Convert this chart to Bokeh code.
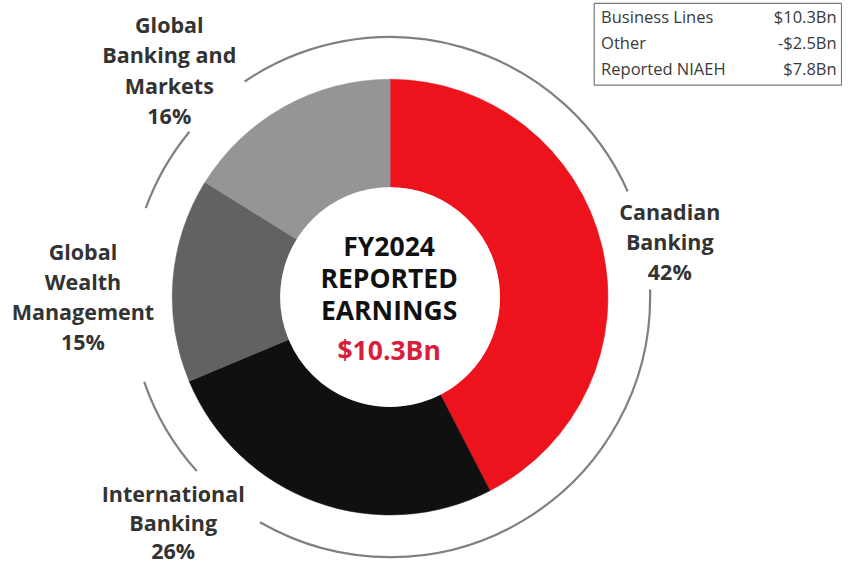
import numpy as np
from bokeh.plotting import figure
from bokeh.models import Range1d
from bokeh.core.properties import value
from bokeh.embed import file_html
from bokeh.resources import INLINE

# ---- data ----
segments = ["Canadian Banking", "International Banking", "Global Wealth Management", "Global Banking and Markets"]
shares = [42, 26, 15, 16]
seg_colors = ["#ED131C", "#101010", "#616264", "#959595"]
label_lines = [["Canadian", "Banking", "42%"],
               ["International", "Banking", "26%"],
               ["Global", "Wealth", "Management", "15%"],
               ["Global", "Banking and", "Markets", "16%"]]
center_title = ["FY2024", "REPORTED", "EARNINGS"]
center_value = "$10.3Bn"
table_names = ["Business Lines", "Other", "Reported NIAEH"]
table_values = ["$10.3Bn", "-$2.5Bn", "$7.8Bn"]

W, H = 842, 565
def Y(sy):
    return 581 - sy

p = figure(width=W, height=H, x_range=Range1d(0, 858), y_range=Range1d(0, 581),
           output_backend="svg", toolbar_location=None, min_border=0,
           x_axis_location=None, y_axis_location=None)
p.grid.visible = False
p.outline_line_color = None
p.background_fill_color = "white"

FONT = value("Open Sans")
cx, cy = 397, Y(305)
r_out, r_in, r_arc = 222, 112, 265

# donut wedges (clockwise from 12 o'clock)
total = float(sum(shares))
ang = np.array(shares) / total * 2 * np.pi
ends = np.pi / 2 - np.concatenate([[0], np.cumsum(ang)[:-1]])
starts = ends - ang
p.annular_wedge(x=cx, y=cy, inner_radius=r_in, outer_radius=r_out,
                start_angle=list(starts), end_angle=list(ends),
                fill_color=seg_colors, line_color=seg_colors, line_width=0.5)
p.circle(x=cx, y=cy, radius=r_in, fill_color="white", line_color=None)

# outer grey arc broken around the labels
arc_parts = [(24, 124), (140.5, 160), (199, 222), (240, 361.7)]
for a0, a1 in arc_parts:
    p.arc(x=cx, y=cy, radius=r_arc, start_angle=np.deg2rad(a0), end_angle=np.deg2rad(a1),
          direction="anticlock", line_color="#808080", line_width=2.2)

# segment labels
label_pos = [(682, [217, 248, 279]),
             (176, [507, 537, 566]),
             (84, [258, 289, 320, 351]),
             (172, [25, 56, 87, 118])]
for lines, (lx, ys) in zip(label_lines, label_pos):
    p.text(x=[lx] * len(lines), y=[Y(v) for v in ys], text=lines,
           text_font=FONT, text_font_style="bold", text_font_size="21.5px",
           text_color="#333333", text_align="center", text_baseline="middle")

# centre text
p.text(x=[396] * 3, y=[Y(252), Y(285), Y(318)], text=center_title,
       text_font=FONT, text_font_style="bold", text_font_size="26.5px",
       text_color="#111111", text_align="center", text_baseline="middle")
p.text(x=[396], y=[Y(359)], text=[center_value],
       text_font=FONT, text_font_style="bold", text_font_size="26.5px",
       text_color="#D71E3A", text_align="center", text_baseline="middle")

# summary table box
p.quad(left=[605], right=[857], top=[Y(3)], bottom=[Y(87)],
       fill_color="white", line_color="#7a7a7a", line_width=1.2)
row_y = [Y(16), Y(43), Y(70)]
p.text(x=[612] * 3, y=row_y, text=table_names, text_font=FONT,
       text_font_size="16.5px", text_color="#3a3a3a", text_align="left", text_baseline="middle")
p.text(x=[852] * 3, y=row_y, text=table_values, text_font=FONT,
       text_font_size="16.5px", text_color="#3a3a3a", text_align="right", text_baseline="middle")

open("out.html", "w").write(file_html(p, INLINE))
